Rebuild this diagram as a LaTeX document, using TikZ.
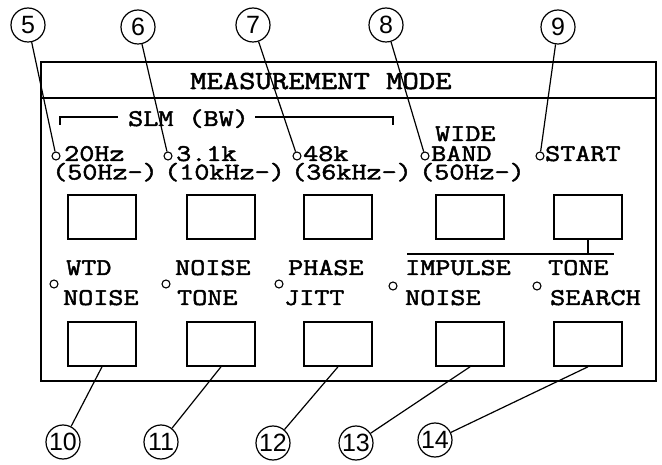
\documentclass[tikz,border=0pt]{standalone}
\usepackage{fontspec}
\setsansfont{Liberation Sans}
\newfontfamily\lblfont{Latin Modern Mono}[FakeStretch=1.22, FakeBold=2]
\begin{document}
\begin{tikzpicture}[x=1pt,y=-1pt,
  lbl/.style={anchor=base west, inner sep=0pt, text height=14pt, text depth=1pt, font=\fontsize{24}{26}\selectfont\lblfont},
  ttl/.style={anchor=base west, inner sep=0pt, font=\fontsize{26}{28}\selectfont\lblfont},
  btn/.style={draw, line width=1.6pt, minimum width=68pt, minimum height=44pt, inner sep=0pt},
  dot/.style={draw, circle, line width=1.1pt, minimum size=8pt, inner sep=0pt},
  callout/.style={draw, circle, line width=1.2pt, minimum size=34pt, inner sep=0pt, font=\fontsize{25}{26}\selectfont\sffamily},
  lead/.style={line width=1.2pt},
  panel/.style={line width=1.8pt}]
\useasboundingbox (0,0) rectangle (662,465);
% panel
\draw[panel] (41,62) rectangle (656,381);
\coordinate (hl) at (41,98);
\coordinate (hr) at (656,98);
\draw[panel] (hl) -- (hr);
\node[ttl] (title) at (190,89) {MEASUREMENT MODE};
% SLM bracket
\node[lbl] (slm) at (128,126) {SLM (BW)};
\coordinate (s1) at (60,125);
\coordinate (s2) at (60,117);
\coordinate (s3) at (118,117);
\coordinate (s4) at (255,117);
\coordinate (s5) at (393,117);
\coordinate (s6) at (393,125);
\draw[lead] (s1) -- (s2) -- (s3);
\draw[lead] (s4) -- (s5) -- (s6);
% row 1 labels
\node[dot] (d1) at (56,156) {};
\node[lbl] (t1) at (64,161) {20Hz};
\node[lbl] (t1b) at (52,179.5) {(50Hz-)};
\node[dot] (d2) at (168,156) {};
\node[lbl] (t2) at (176,161) {3.1k};
\node[lbl] (t2b) at (164,179.5) {(10kHz-)};
\node[dot] (d3) at (297,156) {};
\node[lbl] (t3) at (303,161) {48k};
\node[lbl] (t3b) at (291,179.5) {(36kHz-)};
\node[lbl] (t4a) at (435,141) {WIDE};
\node[dot] (d4) at (425,156) {};
\node[lbl] (t4) at (431,161) {BAND};
\node[lbl] (t4b) at (419,179.5) {(50Hz-)};
\node[dot] (d5) at (540,156) {};
\node[lbl] (t5) at (545,161) {START};
% row 1 buttons
\node[btn] (b1) at (102,217) {};
\node[btn] (b2) at (221,217) {};
\node[btn] (b3) at (338,217) {};
\node[btn] (b4) at (470,217) {};
\node[btn] (b5) at (588,217) {};
\coordinate (brL) at (407,254);
\coordinate (brR) at (614,254);
\draw[lead] (brL) -- (brR);
\draw[lead] (b5.south) -- (b5.south |- brL);
% row 2 labels
\node[lbl] (u1a) at (66,275) {WTD};
\node[dot] (e1) at (54,284) {};
\node[lbl] (u1) at (63,305) {NOISE};
\node[lbl] (u2a) at (175,275) {NOISE};
\node[dot] (e2) at (166,284) {};
\node[lbl] (u2) at (177,305) {TONE};
\node[lbl] (u3a) at (288,275) {PHASE};
\node[dot] (e3) at (279,284) {};
\node[lbl] (u3) at (284,305) {JITT};
\node[lbl] (u4a) at (405,275) {IMPULSE};
\node[dot] (e4) at (393,286) {};
\node[lbl] (u4) at (405,305) {NOISE};
\node[lbl] (u5a) at (548,275) {TONE};
\node[dot] (e5) at (537,286) {};
\node[lbl] (u5) at (550,305) {SEARCH};
% row 2 buttons
\node[btn] (b6) at (102,344) {};
\node[btn] (b7) at (221,344) {};
\node[btn] (b8) at (338,344) {};
\node[btn] (b9) at (470,344) {};
\node[btn] (b10) at (588,344) {};
% callouts
\node[callout] (c5) at (28,25) {5};
\node[callout] (c6) at (138,27) {6};
\node[callout] (c7) at (253,25) {7};
\node[callout] (c8) at (386,25) {8};
\node[callout] (c9) at (558,27) {9};
\node[callout] (c10) at (63,442) {10};
\node[callout] (c11) at (161,442) {11};
\node[callout] (c12) at (273,443) {12};
\node[callout] (c13) at (356,443) {13};
\node[callout] (c14) at (435,440) {14};
\draw[lead] (c5) -- (d1);
\draw[lead] (c6) -- (d2);
\draw[lead] (c7) -- (d3);
\draw[lead] (c8) -- (d4);
\draw[lead] (c9) -- (d5);
\draw[lead] (c10) -- (b6.south);
\draw[lead] (c11) -- (b7.south);
\draw[lead] (c12) -- (b8.south);
\draw[lead] (c13) -- (b9.south);
\draw[lead] (c14) -- (b10.south);
\end{tikzpicture}
\end{document}
